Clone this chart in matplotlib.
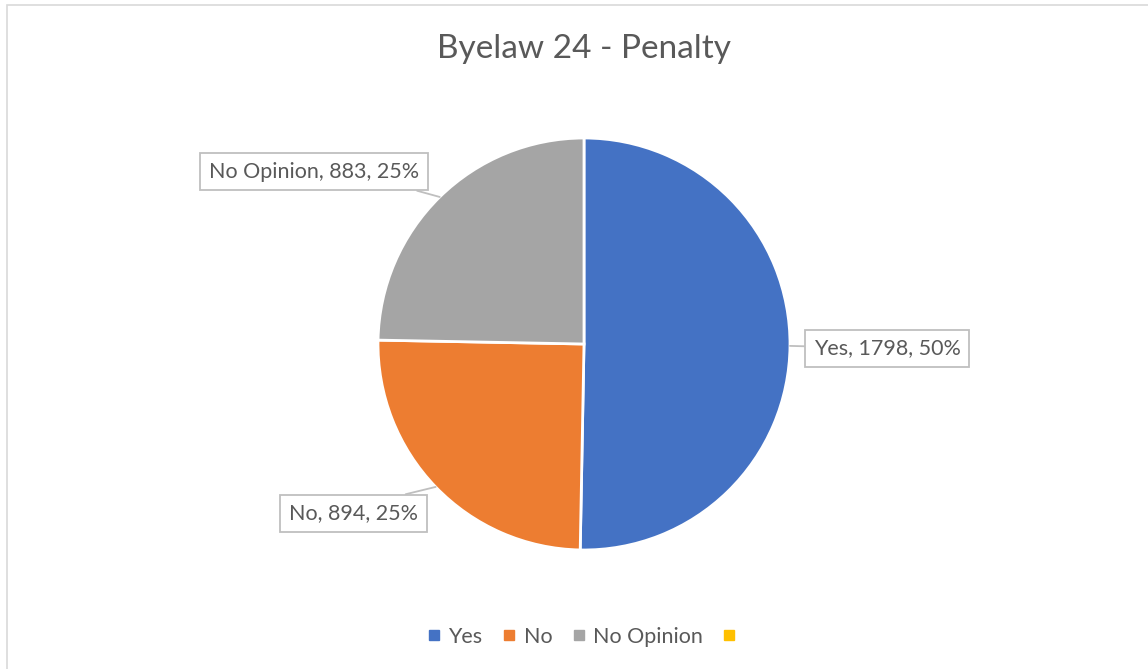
import numpy as np
import matplotlib
matplotlib.use('Agg')
import matplotlib.pyplot as plt
from matplotlib.lines import Line2D
from matplotlib.patches import Rectangle

# Survey responses
categories = ['Yes', 'No', 'No Opinion']
counts = [1798, 894, 883]
colors = ['#4472C4', '#ED7D31', '#A5A5A5']
legend_extra_color = '#FFC000'  # empty fourth series in the legend
title = 'Byelaw 24 - Penalty'

TEXT_COLOR = '#595959'
FONT = ['Lato', 'DejaVu Sans']

W, H = 1148, 669
CX, CY, R = 584, 344, 206  # pie centre / radius in pixels


def px(x, y):
    """pixel position -> data coords (pie radius = 1)"""
    return (x - CX) / R, (CY - y) / R


fig = plt.figure(figsize=(W / 100, H / 100), dpi=100, facecolor='white')
ax = fig.add_axes([0, 0, 1, 1])

wedges, _ = ax.pie(counts, colors=colors, startangle=90, counterclock=False,
                   radius=1, wedgeprops=dict(edgecolor='white', linewidth=2))

# pie() resets the limits, so fix them afterwards
ax.set_xlim(-CX / R, (W - CX) / R)
ax.set_ylim(-(H - CY) / R, CY / R)
ax.set_aspect('equal')
ax.axis('off')

total = sum(counts)
# label centre (px) and where the leader leaves the box (relpos)
label_layout = {
    'Yes': ((887, 348.5), (0.0, 0.6)),
    'No': ((353.5, 513.5), (0.61, 1.0)),
    'No Opinion': ((314, 171.5), (0.83, 0.0)),
}

for w, cat, n in zip(wedges, categories, counts):
    mid = np.deg2rad((w.theta1 + w.theta2) / 2)
    tip = (np.cos(mid), np.sin(mid))
    (lx, ly), rel = label_layout[cat]
    pct = round(100 * n / total)
    ax.annotate(f'{cat}, {n}, {pct}%', xy=tip, xytext=px(lx, ly),
                ha='center', va='center', fontsize=15.5, color=TEXT_COLOR,
                family=FONT,
                bbox=dict(boxstyle='square,pad=0.4', fc='white',
                          ec='#BFBFBF', lw=1.3),
                arrowprops=dict(arrowstyle='-', color='#BFBFBF', lw=1.3,
                                shrinkA=0, shrinkB=0, relpos=rel))

fig.text(CX / W, 1 - 49 / H, title, ha='center', va='center',
         fontsize=24, color=TEXT_COLOR, family=FONT)

handles = [Line2D([], [], marker='s', linestyle='none', markersize=7,
                  color=c) for c in colors + [legend_extra_color]]
labels = categories + ['']
leg = fig.legend(handles, labels, loc='center', ncol=4,
                 bbox_to_anchor=((CX + 3) / W, 1 - 637 / H), frameon=False,
                 handlelength=0.35, handletextpad=0.5, columnspacing=1.05,
                 prop=dict(family=FONT, size=15.5))
for t in leg.get_texts():
    t.set_color(TEXT_COLOR)

# chart area border
fig.patches.append(Rectangle((7 / W, -0.1), 1.2, 1.1 - 5 / H,
                             transform=fig.transFigure, fill=False,
                             ec='#D9D9D9', lw=1.2))

fig.savefig('out.png', dpi=100, facecolor='white')
